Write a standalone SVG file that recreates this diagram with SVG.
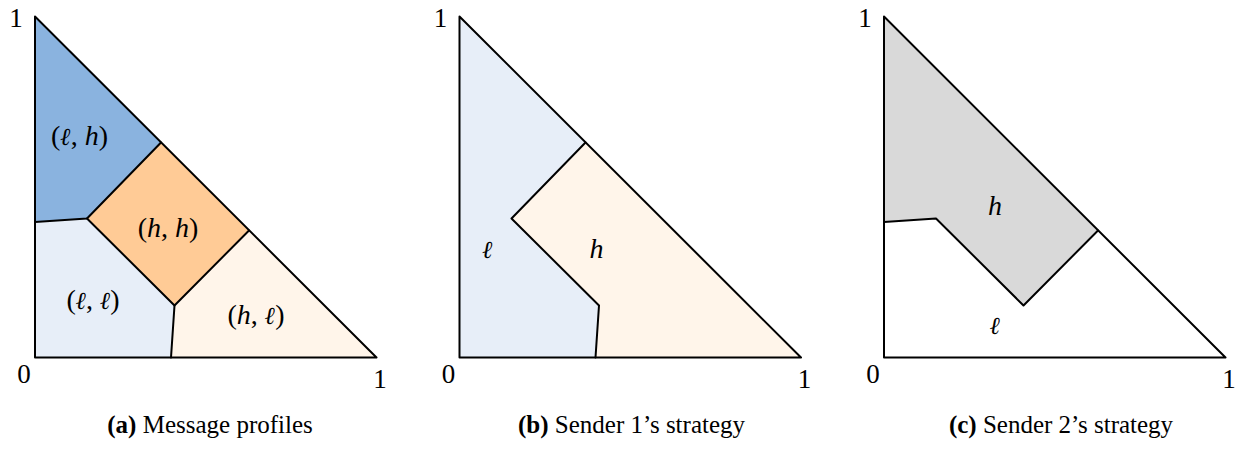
<svg xmlns="http://www.w3.org/2000/svg" width="1235" height="449" viewBox="0 0 1235 449">
<style>
.ln{fill:none;stroke:#000;stroke-width:2;stroke-linejoin:round;stroke-linecap:round}
.t{font-family:"Liberation Serif","DejaVu Serif",serif;fill:#000}
.ax{font-size:27px}
.m{font-size:28px}
.i{font-style:italic}
.ell{font-family:"DejaVu Serif",serif;font-style:italic;font-size:0.88em}
.cap{font-size:25px}
.b{font-weight:bold}
</style>
<rect width="1235" height="449" fill="#fff"/>
<g id="panel-a">
  <g id="a-lh"><polygon points="35,16.5 161,142.5 87,218.5 35,222" fill="#8AB3DF"/><text class="t m" x="79.5" y="145" text-anchor="middle">(<tspan class="ell">ℓ</tspan>, <tspan class="i">h</tspan>)</text></g>
  <g id="a-hh"><polygon points="161,142.5 249,230.5 174.5,305.5 87,218.5" fill="#FFCB96"/><text class="t m" x="168" y="237" text-anchor="middle">(<tspan class="i">h</tspan>, <tspan class="i">h</tspan>)</text></g>
  <g id="a-ll"><polygon points="35,222 87,218.5 174.5,305.5 171,357.5 35,357.5" fill="#E7EEF8"/><text class="t m" x="93" y="309" text-anchor="middle">(<tspan class="ell">ℓ</tspan>, <tspan class="ell">ℓ</tspan>)</text></g>
  <g id="a-hl"><polygon points="174.5,305.5 249,230.5 376.5,357.5 171,357.5" fill="#FFF5EA"/><text class="t m" x="256" y="324" text-anchor="middle">(<tspan class="i">h</tspan>, <tspan class="ell">ℓ</tspan>)</text></g>
  <g id="a-lines">
    <polygon class="ln" points="35,16.5 376.5,357.5 35,357.5"/>
    <polyline class="ln" points="35,222 87,218.5 161,142.5"/>
    <polyline class="ln" points="87,218.5 174.5,305.5 249,230.5"/>
    <polyline class="ln" points="174.5,305.5 171,357.5"/>
  </g>
  <text class="t ax" x="16" y="27" text-anchor="middle">1</text>
  <text class="t ax" x="24" y="383" text-anchor="middle">0</text>
  <text class="t ax" x="380" y="388" text-anchor="middle">1</text>
  <text class="t cap" x="210" y="433" text-anchor="middle"><tspan class="b">(a)</tspan> Message profiles</text>
</g>
<g id="panel-b" transform="translate(424.5,0)">
  <g id="b-l"><polygon points="35,16.5 161,142.5 87,218.5 174.5,305.5 171,357.5 35,357.5" fill="#E7EEF8"/><text class="t m" x="63" y="258" text-anchor="middle"><tspan class="ell">ℓ</tspan></text></g>
  <g id="b-h"><polygon points="161,142.5 376.5,357.5 171,357.5 174.5,305.5 87,218.5" fill="#FFF5EA"/><text class="t m i" x="172" y="258" text-anchor="middle">h</text></g>
  <g id="b-lines">
    <polygon class="ln" points="35,16.5 376.5,357.5 35,357.5"/>
    <polyline class="ln" points="161,142.5 87,218.5 174.5,305.5 171,357.5"/>
  </g>
  <text class="t ax" x="16" y="27" text-anchor="middle">1</text>
  <text class="t ax" x="24" y="383" text-anchor="middle">0</text>
  <text class="t ax" x="380" y="388" text-anchor="middle">1</text>
  <text class="t cap" x="207" y="433" text-anchor="middle"><tspan class="b">(b)</tspan> Sender 1’s strategy</text>
</g>
<g id="panel-c" transform="translate(849,0)">
  <g id="c-h"><polygon points="35,16.5 249,230.5 174.5,305.5 87,218.5 35,222" fill="#D9D9D9"/><text class="t m i" x="146" y="215" text-anchor="middle">h</text></g>
  <g id="c-l"><polygon points="35,222 87,218.5 174.5,305.5 249,230.5 376.5,357.5 35,357.5" fill="#fff"/><text class="t m" x="146" y="334" text-anchor="middle"><tspan class="ell">ℓ</tspan></text></g>
  <g id="c-lines">
    <polygon class="ln" points="35,16.5 376.5,357.5 35,357.5"/>
    <polyline class="ln" points="35,222 87,218.5 174.5,305.5 249,230.5"/>
  </g>
  <text class="t ax" x="16" y="27" text-anchor="middle">1</text>
  <text class="t ax" x="24" y="383" text-anchor="middle">0</text>
  <text class="t ax" x="380" y="388" text-anchor="middle">1</text>
  <text class="t cap" x="212" y="433" text-anchor="middle"><tspan class="b">(c)</tspan> Sender 2’s strategy</text>
</g>
</svg>
